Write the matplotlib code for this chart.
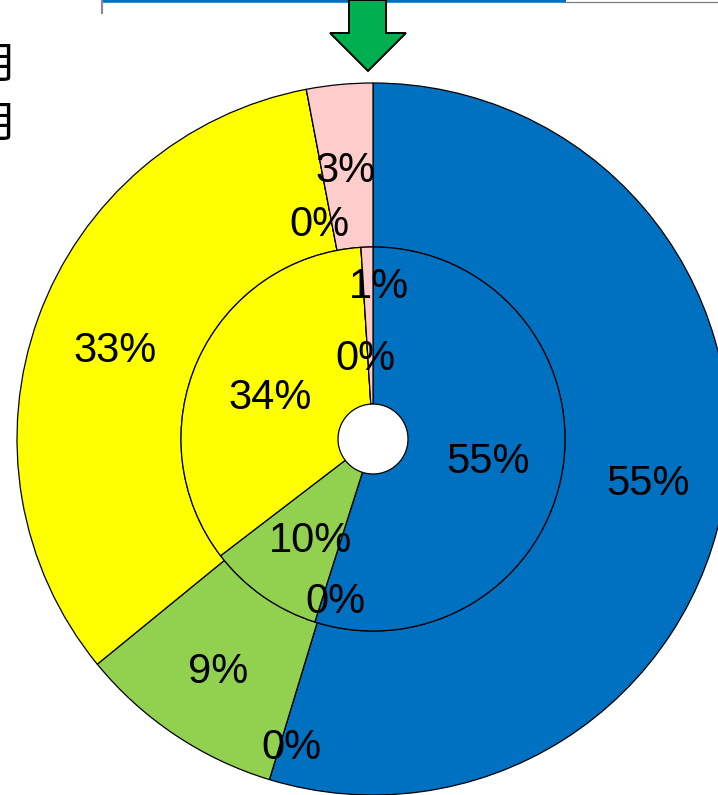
import numpy as np
import matplotlib
matplotlib.use("Agg")
import matplotlib.pyplot as plt
from matplotlib.patches import Polygon

# ---- data -------------------------------------------------------------
categories = ["区分A", "区分B", "区分C", "区分D", "区分E", "区分F"]
outer_values = [54.7, 0.0, 9.4, 32.9, 0.0, 3.0]   # outer ring (%)
inner_values = [54.9, 0.0, 9.7, 34.4, 0.0, 1.0]   # inner ring (%)
side_labels = ["月", "月"]

# ---- style ------------------------------------------------------------
colors = ["#0070C0", "#0070C0", "#92D050", "#FFFF00", "#FFCCCC", "#FFCCCC"]
W, H = 718, 795
CX, CY = 373, 439          # pie centre (pixels from top-left)
R_OUT, R_MID, R_HOLE = 356, 192, 35

# label radius (px) and angular nudge (deg) for every slice
outer_lab_r = [278, 316, 277, 274, 225, 273]
outer_lab_da = [0.1, -2.0, 0.2, -0.4, -3.1, -0.3]
inner_lab_r = [116.6, 163.5, 116.5, 112.6, 84.4, 156]
inner_lab_da = [0.6, -4.2, -2.4, -0.7, -1.8, 4.0]

LABEL_FONT = ["Liberation Sans", "DejaVu Sans"]
LABEL_SIZE = 30
DIGIT_HALF = 0.358 * LABEL_SIZE * 100 / 72   # half digit height in px


def py(y):
    """convert a top-down pixel row into the axes' y coordinate"""
    return H - y


fig = plt.figure(figsize=(W / 100, H / 100), dpi=100)
ax = fig.add_axes([0, 0, 1, 1])

wedge_style = dict(edgecolor="black", linewidth=0.9, antialiased=True)
ax.pie(outer_values, colors=colors, startangle=90, counterclock=False,
       radius=R_OUT, center=(CX, py(CY)),
       wedgeprops=dict(width=R_OUT - R_MID, **wedge_style))
ax.pie(inner_values, colors=colors, startangle=90, counterclock=False,
       radius=R_MID, center=(CX, py(CY)),
       wedgeprops=dict(width=R_MID - R_HOLE, **wedge_style))


def put_labels(values, radii, nudges):
    total = float(sum(values))
    start = 0.0
    for v, r, da in zip(values, radii, nudges):
        mid = (start + v / 2.0) / total * 360.0 + da   # clockwise from top
        start += v
        a = np.deg2rad(mid)
        x = CX + r * np.sin(a)
        y = CY - r * np.cos(a)
        ax.text(x, py(y + DIGIT_HALF), f"{v / total * 100:.0f}%",
                ha="center", va="baseline", fontsize=LABEL_SIZE,
                color="black", family=LABEL_FONT)


put_labels(outer_values, outer_lab_r, outer_lab_da)
put_labels(inner_values, inner_lab_r, inner_lab_da)

# green arrow pointing at the top of the rings
arrow_pts = [(349, 0), (386, 0), (386, 33), (406, 33), (368, 71),
             (330, 33), (349, 33)]
ax.add_patch(Polygon([(x, py(y)) for x, y in arrow_pts], closed=True,
                     facecolor="#00B050", edgecolor="black", linewidth=1.4,
                     zorder=5))

# header rule along the top edge
ax.plot([103, 566], [py(0.8), py(0.8)], color="#0070C0", lw=2.6,
        solid_capstyle="butt", zorder=4)
ax.plot([566, W], [py(1.5), py(1.5)], color="#7F7F7F", lw=0.9, zorder=4)
ax.plot([102, 102], [py(0), py(13)], color="#8C8C8C", lw=1.6, zorder=4)

# side labels, running off the left edge
for y, s in zip([66, 125], side_labels):
    ax.text(18, py(y), s, ha="right", va="center", fontsize=31,
            color="black", family=["Noto Sans CJK JP", "DejaVu Sans"])

ax.set_xlim(0, W)
ax.set_ylim(0, H)
ax.set_aspect("equal")
ax.axis("off")

fig.savefig("out.png", dpi=100, facecolor="white")
